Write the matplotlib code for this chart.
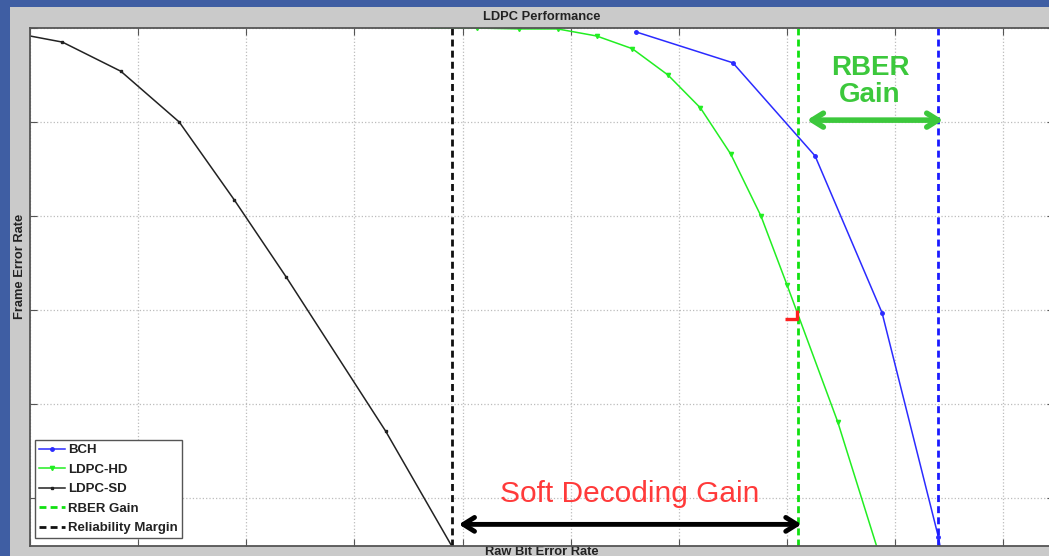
"""LDPC vs BCH frame error rate plot for the slides"""

import matplotlib
matplotlib.use("Agg")
import matplotlib.pyplot as plt
from matplotlib.patches import Rectangle
from matplotlib.path import Path
import numpy as np

plt.rcParams['font.family'] = ['Liberation Sans', 'DejaVu Sans']

# raw bit error rate (grid units) and log10 frame error rate per code
bch_x = [5.60, 6.50, 7.26, 7.88, 8.40, 8.43]
bch_y = [-0.04, -0.37, -1.36, -3.03, -5.41, -5.60]

hd_x = [3.71, 4.13, 4.52, 4.88, 5.24, 5.57, 5.90, 6.20, 6.48, 6.76, 7.00, 7.47, 7.84]
hd_y = [0.0, 0.0, -0.01, -0.01, -0.085, -0.22, -0.50, -0.85, -1.34, -2.00, -2.73, -4.19, -5.55]

sd_x = [0.0, 0.30, 0.84, 1.38, 1.89, 2.37, 3.29, 3.92]
sd_y = [-0.085, -0.15, -0.46, -1.00, -1.83, -2.65, -4.29, -5.55]

rber_gain_x = 7.10      # LDPC-HD limit
bch_limit_x = 8.40      # BCH limit
margin_x = 3.90         # reliability margin

fig = plt.figure(figsize=(10.49, 5.56), dpi=100, facecolor='#3f5ea3')
fig.patches.append(Rectangle((10 / 1049, 0), 1, 549 / 556, transform=fig.transFigure,
                             facecolor='#cacaca', edgecolor='none', zorder=-1))

ax = fig.add_axes([30 / 1049, 10 / 556, 1024 / 1049, 518 / 556])
ax.set_facecolor('white')

ax.semilogy(bch_x, 10.0 ** np.array(bch_y), color='#2b2bff', lw=1.1,
            marker='o', ms=2.5, label='BCH')
ax.semilogy(hd_x, 10.0 ** np.array(hd_y), color='#22ee22', lw=1.1,
            marker='v', ms=3, markevery=slice(1, None), label='LDPC-HD')
ax.semilogy(sd_x, 10.0 ** np.array(sd_y), color='#222222', lw=1.1,
            marker='s', ms=1.8, markevery=slice(1, None), label='LDPC-SD')
ax.axvline(rber_gain_x, color='#11e011', ls=(0, (2.5, 1.5)), lw=2, label='RBER Gain')
ax.axvline(margin_x, color='#111111', ls=(0, (2.5, 1.5)), lw=2, label='Reliability Margin')
ax.axvline(bch_limit_x, color='#1a1aff', ls=(0, (2.5, 1.5)), lw=2)

# red cursor mark on the HD curve
cursor = Path([(0, 0.75), (0, 0), (-1, 0)], [Path.MOVETO, Path.LINETO, Path.LINETO])
ax.plot([7.09], [10 ** -3.10], marker=cursor, ms=17, mfc='none', mec='#ff2020',
        mew=2.4, zorder=5)

ax.set_xlim(0, 9.47)
ax.set_ylim(10 ** -5.51, 1)
ax.set_xticks(np.arange(0, 10))
ax.set_yticks(10.0 ** -np.arange(0, 6))
ax.minorticks_off()
ax.tick_params(which='both', direction='in', length=5, top=True, right=True,
               labelbottom=False, labelleft=False, color='#555555')
ax.grid(True, ls=':', color='#bcbcbc', lw=0.9)
for s in ax.spines.values():
    s.set_color('#555555')
    s.set_linewidth(1.3)

ax.set_title('LDPC Performance', fontsize=9.3, fontweight='bold', color='#222222', pad=6)
ax.set_xlabel('Raw Bit Error Rate', fontsize=9.3, fontweight='bold', color='#222222', labelpad=0)
ax.set_ylabel('Frame Error Rate', fontsize=9.3, fontweight='bold', color='#222222')
ax.yaxis.set_label_coords(-0.004, 0.54)

leg = ax.legend(loc='lower left', bbox_to_anchor=(0.005, 0.015), borderaxespad=0,
                prop=dict(size=9.5, weight='bold'), handlelength=2.0, handletextpad=0.2,
                labelspacing=0.55, borderpad=0.3, fancybox=False, framealpha=1,
                edgecolor='#555555')
leg.get_frame().set_linewidth(1.0)
for t in leg.get_texts():
    t.set_color('#222222')

# gain annotations
ax.annotate('', xy=(3.94, 10 ** -5.28), xytext=(7.16, 10 ** -5.28),
            arrowprops=dict(arrowstyle='<->, head_length=0.8, head_width=0.5',
                            lw=3.5, color='black'))
ax.text(5.55, 10 ** -4.96, 'Soft Decoding Gain', color='#ff3a3a', fontsize=21.5,
        ha='center', va='center')
ax.annotate('', xy=(7.16, 10 ** -0.98), xytext=(8.47, 10 ** -0.98),
            arrowprops=dict(arrowstyle='<->, head_length=0.8, head_width=0.5',
                            lw=4, color='#3cc83c'))
ax.text(7.77, 10 ** -0.57, 'RBER\nGain', color='#3cc83c', fontsize=20,
        fontweight='bold', ha='center', va='center', linespacing=1.05)

fig.savefig('out.png', dpi=100, facecolor=fig.get_facecolor())
